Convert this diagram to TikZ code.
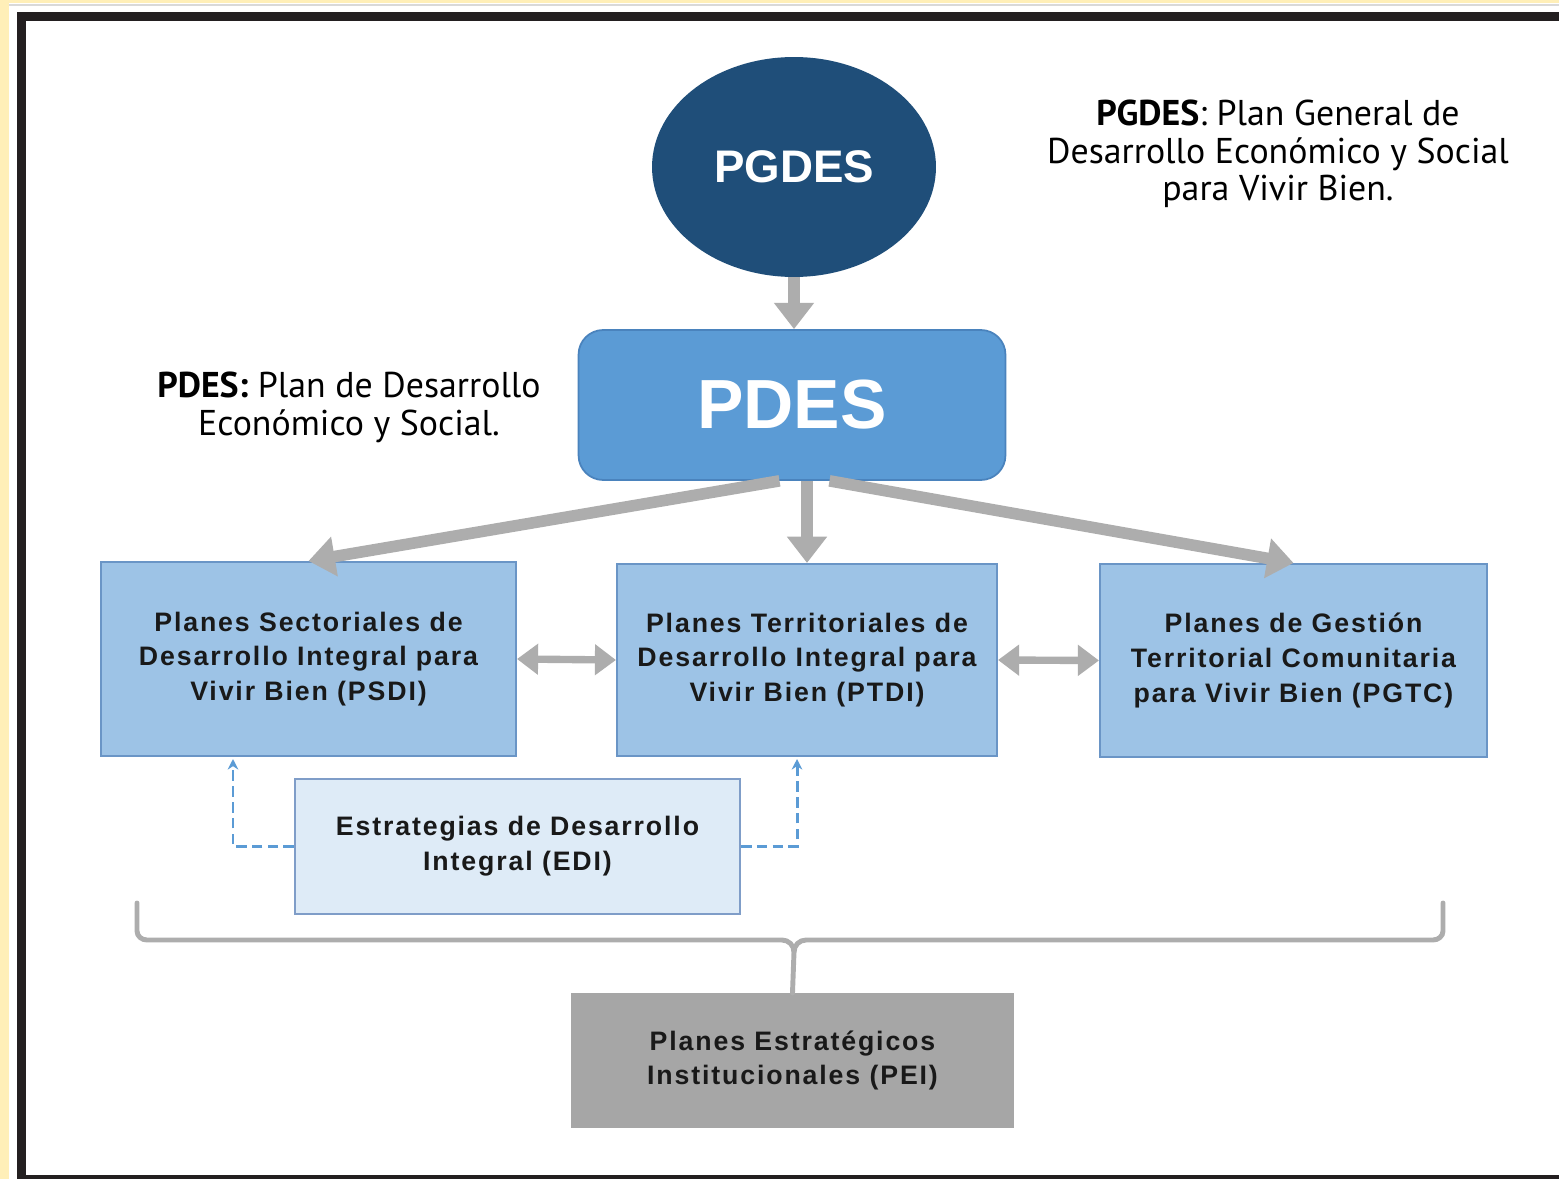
\documentclass[tikz,border=0pt]{standalone}
\usepackage{fontspec}
\setmainfont{Liberation Sans}
\newfontfamily\notefont{PT Sans}
\newfontfamily\boxfont[LetterSpace=7]{Liberation Sans}
\usepackage{tikz}
\usetikzlibrary{positioning, shapes.geometric, arrows.meta}

\definecolor{darkblue}{HTML}{1F4E79}
\definecolor{midblue}{HTML}{5B9BD5}
\definecolor{midblueline}{HTML}{4A83BD}
\definecolor{lightblue}{HTML}{9DC3E6}
\definecolor{lightblueline}{HTML}{6A95C6}
\definecolor{paleblue}{HTML}{DEEBF7}
\definecolor{paleblueline}{HTML}{7F9DC8}
\definecolor{peigray}{HTML}{A6A6A6}
\definecolor{arrowgray}{HTML}{ADADAD}
\definecolor{framegray}{HTML}{231F20}
\definecolor{edgeyellow}{HTML}{FFEFB8}

\tikzset{
  planbox/.style={draw=lightblueline, fill=lightblue, line width=1.2pt,
    inner sep=0pt, align=center, text=black!90,
    font=\boxfont\bfseries\fontsize{15.2}{19.8}\selectfont},
  bigarrow/.style={draw=arrowgray, line width=6.6pt,
    -{Triangle[width=22pt, length=15pt]}},
  twoway/.style={draw=arrowgray, line width=4.2pt,
    {Triangle[width=17pt, length=12pt]}-{Triangle[width=17pt, length=12pt]}},
  edilink/.style={draw=midblue, line width=1.7pt,
    dash pattern=on 6pt off 3pt, -{Stealth[length=6pt, width=6pt]}},
  bracket/.style={draw=arrowgray, line width=2.8pt, line cap=round},
  note/.style={align=center, font=\notefont\fontsize{20.4}{21.5}\selectfont}
}

\begin{document}
\begin{tikzpicture}[x=0.02cm, y=-0.02cm]
  % page and frame
  \useasboundingbox (0,0) rectangle (1559,1179);
  \fill[white] (0,0) rectangle (1559,1179);
  \fill[edgeyellow] (0,0) rectangle (9,1179);
  \fill[edgeyellow] (0,0) rectangle (1559,3);
  \fill[black!15] (9,4) rectangle (1559,6);
  \draw[framegray, line width=0.18cm] (21.5,17) rectangle (1590,1179);

  % nodes
  \node[ellipse, fill=darkblue, minimum width=5.68cm, minimum height=4.4cm,
    text=white, font=\bfseries\fontsize{26}{30}\selectfont]  (pgdes) at (794,167)
  {PGDES};
  \node[draw=midblueline, fill=midblue, rounded corners=14pt, line width=1pt,
    minimum width=8.54cm, minimum height=3cm, text=white,
    font=\bfseries\fontsize{39.6}{44}\selectfont]            (pdes) at (792,405)
  {PDES};
  \node[planbox, minimum width=8.3cm, minimum height=3.88cm] (psdi) at (308.5,659)
  {Planes Sectoriales de\\Desarrollo Integral para\\Vivir Bien (PSDI)};
  \node[planbox, minimum width=7.6cm, minimum height=3.84cm] (ptdi) at (807,660)
  {Planes Territoriales de\\Desarrollo Integral para\\Vivir Bien (PTDI)};
  \node[planbox, minimum width=7.74cm, minimum height=3.86cm] (pgtc) at (1293.5,660.5)
  {Planes de Gestión\\Territorial Comunitaria\\para Vivir Bien (PGTC)};
  \node[planbox, draw=paleblueline, fill=paleblue,
    minimum width=8.9cm, minimum height=2.7cm]              (edi) at (517.5,846.5)
  {Estrategias de Desarrollo\\Integral (EDI)};
  \node[planbox, draw=peigray, fill=peigray,
    minimum width=8.82cm, minimum height=2.66cm]            (pei) at (792.5,1060.5)
  {Planes Estratégicos\\Institucionales (PEI)};

  % notes
  \node[note] (pgdes note) at (1278,154)
  {\textbf{PGDES}: Plan General de\\Desarrollo Económico y Social\\para Vivir Bien.};
  \node[note] (pdes note) at (349,407.5)
  {\textbf{PDES:} Plan de Desarrollo\\Económico y Social.};

  % arrows
  \draw[bigarrow] (pgdes.south) -- (pgdes.south |- pdes.north);
  \draw[bigarrow] (ptdi.north |- pdes.south) -- (ptdi.north);
  \draw[bigarrow] ([xshift=-0.25cm]pdes.south) -- (psdi.north);
  \draw[bigarrow] ([xshift=0.75cm]pdes.south) -- (pgtc.north);
  \draw[twoway] (psdi.east) -- (ptdi.west);
  \draw[twoway] (ptdi.east) -- (pgtc.west);

  \coordinate (psdi in) at (233,759);
  \coordinate (ptdi in) at (797,759);
  \draw[edilink] (edi.west) -| (psdi in);
  \draw[edilink] (edi.east) -| (ptdi in);

  % bracket to PEI
  \coordinate (bracket left)  at (137,903);
  \coordinate (bracket right) at (1443,903);
  \coordinate (bracket tip)   at (794,952);
  \draw[bracket] (bracket left) -- ++(0,28) to[out=-90,in=180] ++(10,9)
    -- (782,940) to[out=0,in=90] (bracket tip) -- (pei.north);
  \draw[bracket] (bracket right) -- ++(0,28) to[out=-90,in=0] ++(-10,9)
    -- (806,940) to[out=180,in=90] (bracket tip);
\end{tikzpicture}
\end{document}
